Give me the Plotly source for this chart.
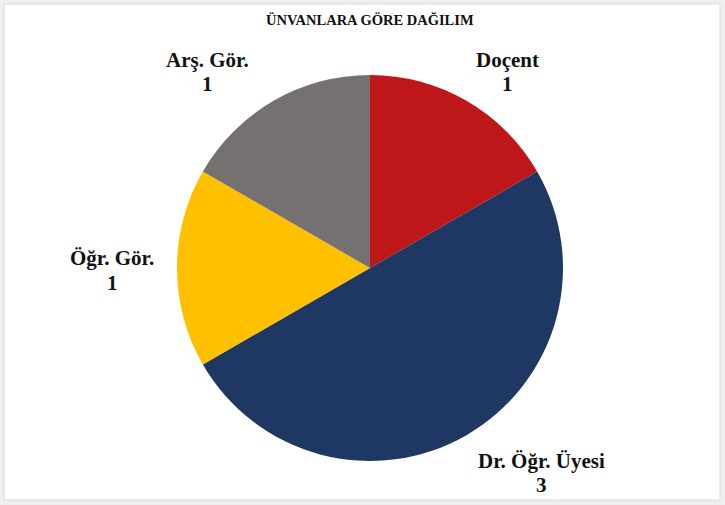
import plotly.graph_objects as go

title_text = "ÜNVANLARA GÖRE DAĞILIM"
labels = ["Doçent", "Dr. Öğr. Üyesi", "Öğr. Gör.", "Arş. Gör."]
values = [1, 3, 1, 1]
colors = ["#BE1719", "#1F3763", "#FFC000", "#767171"]

W, H = 725, 505
# label anchor positions in pixels (x, name line y, value line y) — layout only
label_pos = [(507, 60, 84), (541, 461, 485), (112, 258, 283), (207, 60, 84)]

fig = go.Figure(go.Pie(
    labels=labels,
    values=values,
    sort=False,
    direction="clockwise",
    rotation=0,
    marker=dict(colors=colors, line=dict(width=0)),
    textinfo="none",
    hoverinfo="label+value",
    showlegend=False,
    domain=dict(x=[177 / W, 563 / W], y=[1 - 461 / H, 1 - 75 / H]),
))

font_family = "Liberation Serif"
annotations = [dict(
    x=370 / W, y=1 - 20 / H, xref="paper", yref="paper",
    text="<b>" + title_text + "</b>", showarrow=False,
    xanchor="center", yanchor="middle",
    font=dict(family=font_family, size=14.5, color="#111111"),
)]
for lab, val, (px, py1, py2) in zip(labels, values, label_pos):
    for txt, py in ((lab, py1), (str(val), py2)):
        annotations.append(dict(
            x=px / W, y=1 - py / H, xref="paper", yref="paper",
            text=f"<b>{txt}</b>", showarrow=False,
            xanchor="center", yanchor="middle", align="center",
            font=dict(family=font_family, size=21, color="#111111"),
        ))

fig.update_layout(
    width=W, height=H,
    margin=dict(l=0, r=0, t=0, b=0),
    paper_bgcolor="#EFEFEF",
    font=dict(family=font_family),
    annotations=annotations,
    shapes=[dict(
        type="rect", xref="paper", yref="paper", layer="below",
        x0=4 / W, x1=720 / W, y0=1 - 500 / H, y1=1 - 4 / H,
        fillcolor="white", line=dict(color="#D9D9D9", width=1),
    )],
)

fig.write_html(
    "out.html",
    config=dict(displayModeBar=False),
    post_script="document.body.style.margin='0';document.body.style.background='#EFEFEF';",
)
